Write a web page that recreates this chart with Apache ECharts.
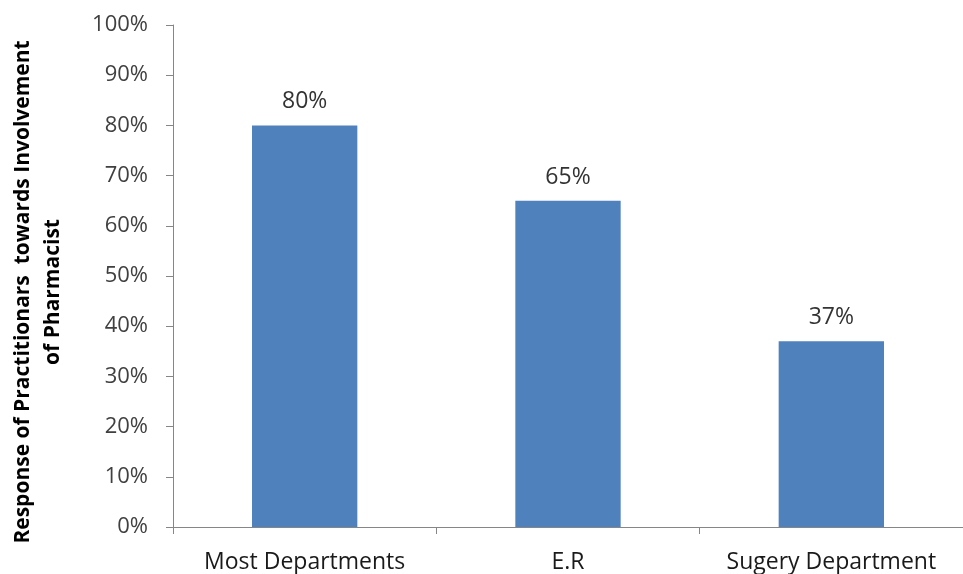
<!DOCTYPE html>
<html>
<head>
<meta charset="utf-8">
<script src="https://cdn.jsdelivr.net/npm/echarts@6/dist/echarts.min.js"></script>
<style>
  html, body { margin: 0; padding: 0; background: #fff; }
  #chart { width: 963px; height: 574px; }
</style>
</head>
<body>
<div id="chart"></div>
<script>
// Share of practitioners favouring pharmacist involvement, by department
const categories = ['Most Departments', 'E.R', 'Sugery Department'];
const responsePct = [80, 65, 37];
const yTicks = [0, 10, 20, 30, 40, 50, 60, 70, 80, 90, 100];

const chart = echarts.init(document.getElementById('chart'));
const font = '"Open Sans", Lato, sans-serif';

chart.setOption({
  animation: false,
  backgroundColor: '#ffffff',
  grid: { left: 173, top: 25, width: 796, height: 503, containLabel: false },
  xAxis: {
    type: 'category',
    data: categories,
    boundaryGap: true,
    axisLine: { lineStyle: { color: '#868686', width: 1 } },
    axisTick: { show: true, alignWithLabel: false, interval: 0, length: 7, lineStyle: { color: '#868686' } },
    axisLabel: { color: '#1a1a1a', fontSize: 23, fontFamily: font, margin: 24, interval: 0, hideOverlap: false }
  },
  yAxis: {
    type: 'value',
    min: yTicks[0],
    max: yTicks[yTicks.length - 1],
    interval: 10,
    splitLine: { show: false },
    axisLine: { show: true, lineStyle: { color: '#868686', width: 1 } },
    axisTick: { show: true, length: 7, lineStyle: { color: '#868686' } },
    axisLabel: { color: '#404040', fontSize: 22, fontFamily: font, margin: 25, formatter: v => v + '%' }
  },
  series: [{
    type: 'bar',
    data: responsePct,
    barWidth: '40%',
    itemStyle: { color: '#4F81BD' },
    label: {
      show: true,
      position: 'top',
      distance: 12,
      color: '#333333',
      fontSize: 23,
      fontFamily: font,
      formatter: p => p.value + '%'
    }
  }],
  graphic: [{
    type: 'text',
    x: 8,
    y: 292,
    rotation: Math.PI / 2,
    style: {
      text: 'Response of Practitionars  towards Involvement\nof Pharmacist',
      fill: '#000000',
      font: 'bold 21px ' + font,
      textAlign: 'center',
      textVerticalAlign: 'top',
      lineHeight: 30
    }
  }]
});
</script>
</body>
</html>
